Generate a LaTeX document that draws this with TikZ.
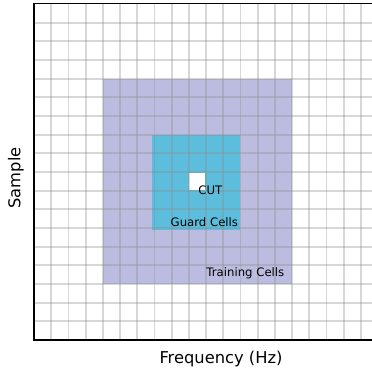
\documentclass[tikz,border=0pt]{standalone}
\usepackage{fontspec}
\setmainfont{DejaVu Sans}
\usepackage{xcolor}
\usepackage{tikz}
\usetikzlibrary{positioning}
\definecolor{trainfill}{RGB}{188,188,224}
\definecolor{guardfill}{RGB}{92,190,220}

\begin{document}
\begin{tikzpicture}[
    x=1pt, y=-1pt,
    gridline/.style={draw=black!45, line width=1.8pt, opacity=0.35},
    spine/.style={draw=black, line width=1.3pt},
    celllabel/.style={anchor=base, inner sep=0pt, font=\fontsize{11.7}{13}\selectfont},
    axislabel/.style={inner sep=0pt, font=\fontsize{16.3}{19}\selectfont},
]
    \useasboundingbox (0,0) rectangle (372,373);

    % Regions
    \fill[trainfill] (102.8,78.7) rectangle (292,284.3);
    \fill[guardfill] (152.3,135) rectangle (240.4,229.5);
    \fill[white] (189.2,173.2) rectangle (204.5,190);

    % Grid
    \foreach \i in {1,...,19}
        \draw[gridline] ({34+17.2*\i},4) -- ({34+17.2*\i},340);
    \foreach \j in {1,...,17}
        \draw[gridline] (34,{4+18.67*\j}) -- (372,{4+18.67*\j});

    % Axes
    \draw[spine] (372,3.6) -- (34,3.6) -- (34,340) -- (372,340);

    % Labels
    \node[celllabel] (cut) at (210.4,194) {CUT};
    \node[celllabel] (guard) at (204.4,226.6) {Guard Cells};
    \node[celllabel] (train) at (245.4,276.8) {Training Cells};

    \node[axislabel, anchor=base] (xlabel) at (221,363.2) {Frequency (Hz)};
    \node[axislabel, rotate=90] (ylabel) at (16,178) {Sample};
\end{tikzpicture}
\end{document}
